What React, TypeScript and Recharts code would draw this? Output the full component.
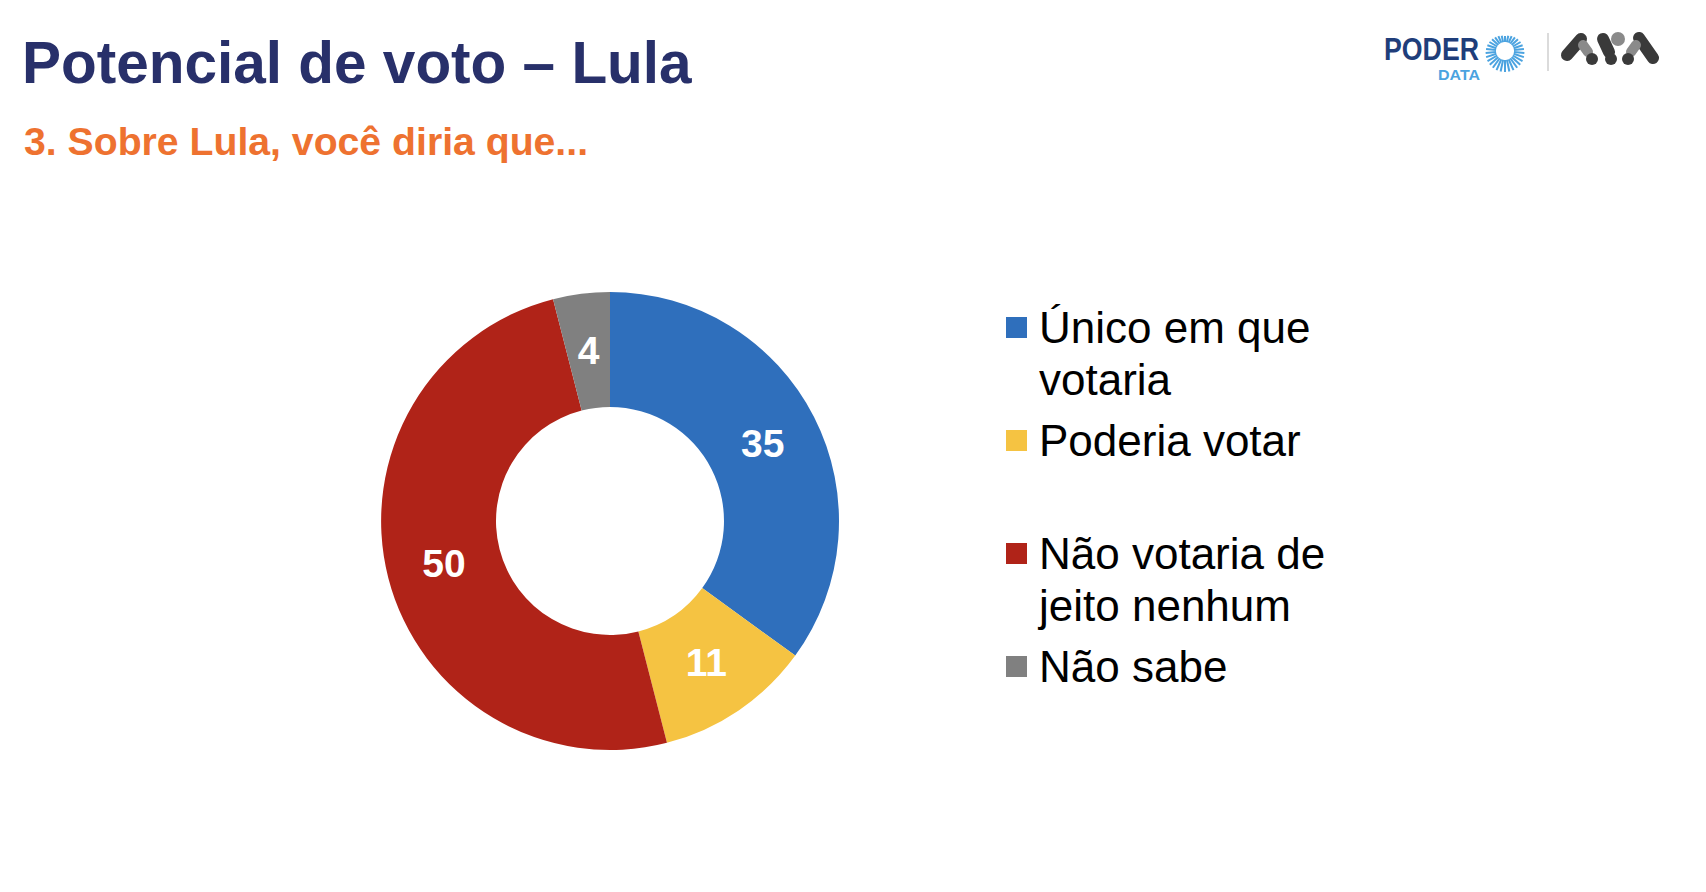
import React from "react";
import { PieChart, Pie, Cell, Legend } from "recharts";

const categories = ["Único em que votaria", "Poderia votar", "Não votaria de jeito nenhum", "Não sabe"];
const values = [35, 11, 50, 4];
const colors = ["#2F6FBC", "#F5C342", "#B02318", "#808080"];

const data = categories.map((name, i) => ({ name, value: values[i] }));

const RADIAN = Math.PI / 180;
const FONT = "'Liberation Sans', Arial, sans-serif";

const renderLabel = (props: any) => {
  const { cx, cy, midAngle, innerRadius, outerRadius, value } = props;
  const r = (innerRadius + outerRadius) / 2;
  const x = cx + r * Math.cos(-midAngle * RADIAN);
  const y = cy + r * Math.sin(-midAngle * RADIAN);
  return (
    <text x={x} y={y} fill="#fff" textAnchor="middle" dominantBaseline="central"
      fontFamily={FONT} fontWeight="bold" fontSize={39}>
      {value}
    </text>
  );
};

const renderLegend = () => (
  <div style={{ fontFamily: FONT, fontSize: 44, lineHeight: "52px", color: "#000" }}>
    {categories.map((name, i) => (
      <div key={name} style={{ position: "relative", height: 113, paddingLeft: 33, width: 330 }}>
        <div style={{ position: "absolute", left: 0, top: 15, width: 21, height: 21, background: colors[i] }} />
        {name}
      </div>
    ))}
  </div>
);

function Logos() {
  const rays = [];
  const cx = 1497;
  const cy = 43;
  for (let i = 0; i < 30; i++) {
    const a = (i / 30) * 2 * Math.PI - Math.PI / 2;
    const r0 = 9;
    const r1 = 15 + 6 * Math.max(0, Math.sin((i / 30) * Math.PI));
    rays.push(
      <line key={i} x1={cx + r0 * Math.cos(a)} y1={cy + r0 * Math.sin(a)}
        x2={cx + r1 * Math.cos(a)} y2={cy + r1 * Math.sin(a)} stroke="#4BA3E0" strokeWidth={2} />
    );
  }
  return (
    <svg width={1690} height={100} style={{ position: "absolute", left: 0, top: 0, pointerEvents: "none" }}>
      <text x={1376} y={52} fontFamily={FONT} fontWeight="bold" fontSize={31}
        fill="#1F3E7A" textLength={95} lengthAdjust="spacingAndGlyphs">PODER</text>
      <text x={1430} y={72} fontFamily={FONT} fontWeight="bold" fontSize={15}
        fill="#4BA3E0" textLength={42} lengthAdjust="spacingAndGlyphs">DATA</text>
      {rays}
      <line x1={1540} y1={25} x2={1540} y2={63} stroke="#cfcfcf" strokeWidth={1.5} />
      <g strokeLinecap="round">
        <line x1={1559} y1={47} x2={1573} y2={31} stroke="#3a3a3a" strokeWidth={12} />
        <line x1={1575} y1={37} x2={1580} y2={44} stroke="#8a8a8a" strokeWidth={10} />
        <circle cx={1584} cy={51} r={6} fill="#3a3a3a" />
        <line x1={1595} y1={31} x2={1601} y2={44} stroke="#3a3a3a" strokeWidth={12} />
        <circle cx={1610} cy={31} r={7} fill="#8a8a8a" />
        <circle cx={1603} cy={51} r={6} fill="#3a3a3a" />
        <line x1={1631} y1={30} x2={1645} y2={50} stroke="#3a3a3a" strokeWidth={12} />
        <line x1={1628} y1={37} x2={1623} y2={44} stroke="#8a8a8a" strokeWidth={10} />
        <circle cx={1620} cy={51} r={6} fill="#3a3a3a" />
      </g>
    </svg>
  );
}

export default function App() {
  return (
    <div style={{ position: "relative", width: 1690, height: 876, background: "#fff", overflow: "hidden" }}>
      <div style={{ position: "absolute", left: 14, top: 25, fontFamily: FONT,
        fontWeight: "bold", fontSize: 58.5, lineHeight: "59px", color: "#28306A", whiteSpace: "nowrap" }}>
        Potencial de voto – Lula
      </div>
      <div style={{ position: "absolute", left: 16, top: 114, fontFamily: FONT,
        fontWeight: "bold", fontSize: 39.2, lineHeight: "40px", color: "#EE7230", whiteSpace: "nowrap" }}>
        3. Sobre Lula, você diria que...
      </div>
      <Logos />
      <div style={{ position: "absolute", left: 0, top: 0 }}>
        <PieChart width={1690} height={876}>
          <Pie data={data} dataKey="value" nameKey="name" cx={597} cy={508} innerRadius={114} outerRadius={229}
            startAngle={90} endAngle={-270} stroke="none" label={renderLabel} labelLine={false}
            isAnimationActive={false}>
            {data.map((_, i) => (
              <Cell key={i} fill={colors[i]} />
            ))}
          </Pie>
          <Legend layout="vertical" content={renderLegend}
            wrapperStyle={{ left: 998, top: 294, width: 360, bottom: "auto", right: "auto" }} />
        </PieChart>
      </div>
    </div>
  );
}
